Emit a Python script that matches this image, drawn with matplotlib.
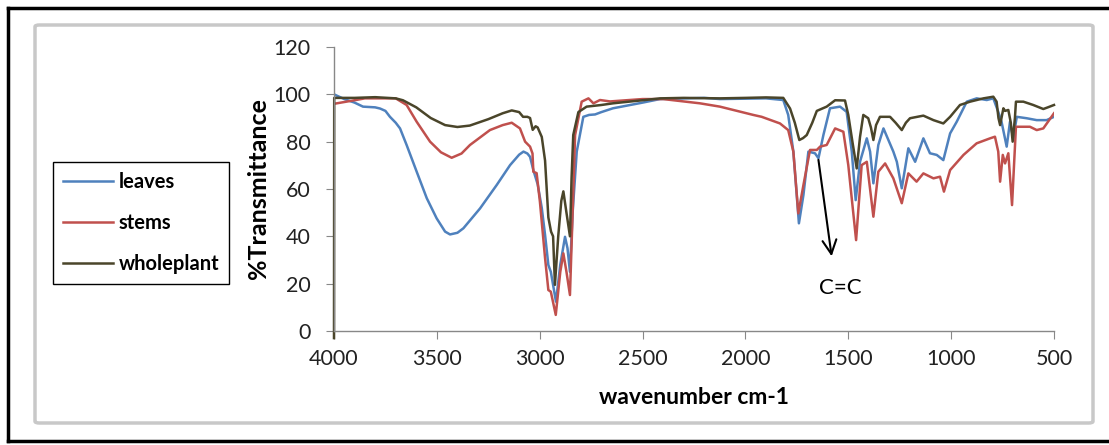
import matplotlib.pyplot as plt
from matplotlib.patches import FancyBboxPatch
from matplotlib.lines import Line2D

# ИК-спектры: волновое число (см-1) и пропускание (%)
wn_leaves = [4000, 3950, 3900, 3859, 3800, 3776, 3750, 3728, 3700, 3679, 3647, 3598, 3549, 3501,
             3460, 3436, 3400, 3371, 3290, 3209, 3144, 3100, 3079, 3060, 3047, 3031, 3010, 2990,
             2974, 2958, 2946, 2921, 2900, 2877, 2865, 2853, 2840, 2820, 2788, 2760, 2731, 2700,
             2644, 2500, 2415, 2200, 2124, 1900, 1816, 1792, 1767, 1740, 1718, 1694, 1662, 1645,
             1621, 1589, 1540, 1508, 1483, 1464, 1443, 1410, 1394, 1378, 1354, 1329, 1281, 1264,
             1240, 1208, 1175, 1135, 1103, 1070, 1038, 1005, 973, 924, 876, 827, 795, 771, 755,
             730, 714, 698, 681, 633, 584, 536, 500]
t_leaves = [100, 98, 96.5, 94.8, 94.5, 94, 93, 90.5, 88, 85.6, 78.6, 67.3, 56.1, 47.6,
            42, 40.8, 41.5, 43.4, 51.8, 61.7, 70.1, 74.5, 75.8, 75, 73.6, 68, 62, 52,
            40.6, 27.9, 25, 12.4, 28, 39.8, 35, 25, 50, 75.8, 90.5, 91.3, 91.5, 92.5,
            94.1, 96.5, 98, 98.5, 98, 98.3, 97.6, 91.3, 75.8, 45.5, 57.5, 75.8, 75.1, 73,
            82.8, 94.1, 94.8, 92.6, 75.8, 55.3, 71.5, 81.4, 75.8, 62.4, 78.6, 85.6, 75.8, 71.5,
            60.3, 77.2, 71.5, 81.4, 75.1, 74.4, 72.2, 83.5, 88.4, 96.9, 98.3, 97.6, 98.3, 92.6, 88.4,
            77.9, 88.4, 81.4, 90.5, 89.9, 89.1, 89.1, 90.5]

wn_stems = [4000, 3900, 3850, 3700, 3647, 3598, 3533, 3480, 3428, 3380, 3339, 3242, 3180, 3136,
            3096, 3071, 3047, 3035, 3031, 3015, 2999, 2974, 2958, 2946, 2922, 2900, 2885, 2870,
            2853, 2840, 2828, 2796, 2763, 2739, 2707, 2658, 2500, 2400, 2221, 2124, 1962, 1921,
            1832, 1792, 1767, 1743, 1718, 1686, 1653, 1637, 1605, 1564, 1524, 1500, 1462, 1435,
            1410, 1378, 1354, 1321, 1281, 1240, 1208, 1168, 1135, 1086, 1054, 1035, 1005, 940,
            876, 811, 787, 771, 762, 749, 738, 722, 704, 685, 617, 584, 552, 500]
t_stems = [96, 97.5, 98.3, 98.3, 95.5, 88.4, 80, 75.5, 73.2, 75, 78.6, 84.9, 87, 88,
           85.6, 80, 77.9, 75, 67.3, 66.7, 54.6, 30.8, 17.3, 16.6, 6.8, 25, 32.8, 25,
           15.2, 50, 82.8, 96.9, 98.3, 96.2, 97.6, 97, 98, 98, 96.2, 94.8, 91.3, 90.5,
           87.7, 84.9, 75.8, 49.7, 61.7, 76.5, 76.5, 77.9, 78.6, 85.6, 84.2, 70.1, 38.4, 70.1,
           71.5, 48.3, 67.3, 70.8, 64.5, 54, 66.6, 63.1, 66.6, 64.5, 65.2, 58.9, 68, 74.4,
           79.3, 81.4, 82.1, 75.8, 63.1, 74.4, 70.8, 75.1, 53.2, 86.3, 86.3, 84.9, 85.6, 92]

wn_whole = [4000, 3999, 3900, 3800, 3700, 3665, 3600, 3530, 3460, 3400, 3340, 3250, 3180, 3136,
            3100, 3081, 3060, 3047, 3034, 3020, 3010, 2990, 2974, 2958, 2945, 2935, 2926, 2910,
            2895, 2885, 2870, 2853, 2845, 2837, 2812, 2772, 2700, 2644, 2500, 2415, 2300, 2124,
            2000, 1900, 1816, 1783, 1760, 1738, 1720, 1702, 1675, 1653, 1605, 1564, 1516, 1500,
            1480, 1459, 1443, 1427, 1403, 1390, 1378, 1365, 1346, 1297, 1270, 1240, 1220, 1200,
            1135, 1086, 1038, 1005, 957, 908, 843, 795, 779, 770, 762, 746, 738, 722, 710, 701,
            690, 685, 649, 601, 552, 530, 500]
t_whole = [-3, 98.5, 98.5, 98.8, 98.3, 97.5, 94.5, 90, 87, 86.2, 86.8, 89.5, 92, 93.2,
           92.5, 90.5, 90.5, 90, 85, 86.5, 86, 82, 72, 48, 42, 40, 19.5, 40,
           55, 59, 50, 40, 65, 82.8, 92.5, 94.8, 95.5, 96.2, 97.5, 98.3, 98.5, 98.3,
           98.5, 98.7, 98.5, 94, 88, 80.7, 81.5, 82.8, 88, 93, 94.8, 97.5, 97.4, 91.3,
           80, 68.7, 82, 91.3, 89.9, 86, 80.7, 87, 90.5, 90.5, 88, 84.9, 88, 89.9,
           91, 89.1, 87.7, 90.5, 95.5, 96.9, 98.3, 99, 96.9, 90, 87, 94.1, 93, 93.4, 88, 80,
           90, 96.9, 96.9, 95.5, 93.8, 94.5, 95.5]

plt.rcParams['font.family'] = ['Lato', 'DejaVu Sans']

fig = plt.figure(figsize=(11.09, 4.45), dpi=100)

# рамки как в Excel
fig.add_artist(FancyBboxPatch((35 / 1109, 1 - 423 / 445), 1058 / 1109, 398 / 445,
                              boxstyle='round,pad=0,rounding_size=0.004',
                              transform=fig.transFigure, fill=False,
                              edgecolor='#c8c8c8', linewidth=2.5))
for xs, ys in [([8, 8], [8, 441]), ([8, 1109], [8, 8]), ([8, 1109], [441, 441])]:
    fig.add_artist(Line2D([x / 1109 for x in xs], [1 - y / 445 for y in ys],
                          transform=fig.transFigure, color='black', linewidth=2.5))

ax = fig.add_axes([334 / 1109, 1 - 331 / 445, 720 / 1109, 284 / 445])

ax.plot(wn_leaves, t_leaves, color='#4F81BD', linewidth=1.8, label='leaves')
ax.plot(wn_stems, t_stems, color='#C0504D', linewidth=1.8, label='stems')
ax.plot(wn_whole, t_whole, color='#4A452A', linewidth=1.8, label='wholeplant', clip_on=False)

ax.set_xlim(4000, 500)
ax.set_ylim(0, 120)
ax.set_xticks(range(4000, 499, -500))
ax.set_yticks(range(0, 121, 20))

for s in ['top', 'right']:
    ax.spines[s].set_visible(False)
for s in ['left', 'bottom']:
    ax.spines[s].set_color('#888888')
    ax.spines[s].set_linewidth(1)
ax.tick_params(axis='y', direction='out', length=6, color='#888888', labelsize=15.5,
               labelcolor='#222222', pad=11)
ax.tick_params(axis='x', direction='out', length=6, color='#888888', labelsize=15.5,
               labelcolor='#222222', pad=7)

ax.set_xlabel('wavenumber cm-1', fontsize=16.5, fontweight='bold', labelpad=13)
ax.set_ylabel('%Transmittance', fontsize=18, fontweight='bold', labelpad=2)

ax.annotate('', xy=(1579, 30.4), xytext=(1647, 73.5),
            arrowprops=dict(arrowstyle='->,head_width=0.5,head_length=1.0', color='black', lw=1.5))
ax.text(1540, 18.2, 'C=C', fontsize=16, ha='center', va='center')

fig.legend(loc='upper left', bbox_to_anchor=(53 / 1109, 1 - 162 / 445), borderaxespad=0,
           fancybox=False, edgecolor='black', framealpha=1,
           prop={'weight': 'bold', 'size': 14.5}, handlelength=2.5, labelspacing=1.05,
           borderpad=0.5, handletextpad=0.25)

plt.savefig('out.png', dpi=100)
